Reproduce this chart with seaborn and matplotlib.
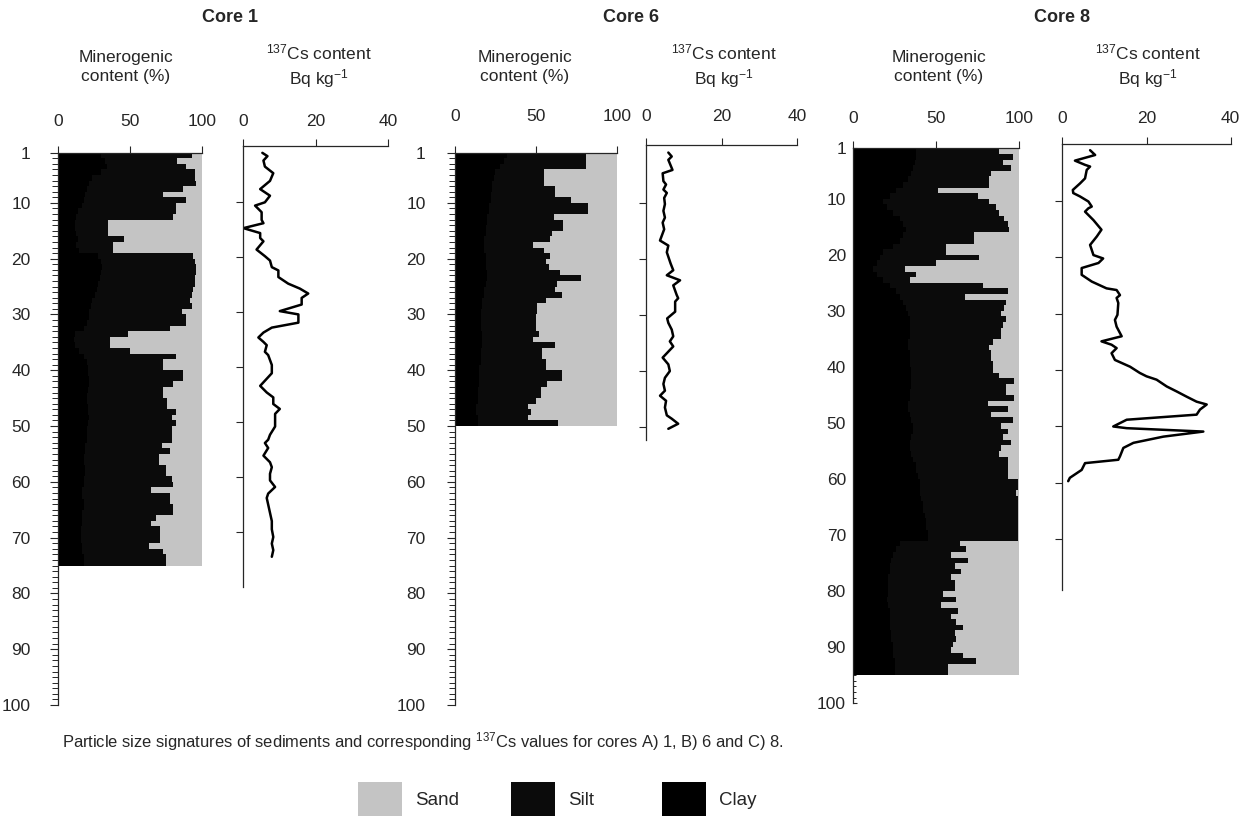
"""
Particle size signatures (clay / silt / sand) and 137Cs profiles
for cores 1, 6 and 8.
"""

import numpy as np
import matplotlib.pyplot as plt
from matplotlib.patches import Patch
from matplotlib.ticker import FixedLocator, MultipleLocator
import seaborn as sns

# %% Data

# 1 cm layers, value for layer [d, d+1)
core1_layers = np.arange(1, 75) + 0.5
core1_mud = [93, 83, 89, 95, 95, 96, 87, 73, 89, 82,
             82, 80, 35, 35, 35, 46, 38, 38, 94, 95,
             96, 96, 95, 95, 94, 93, 92, 93, 86, 89,
             89, 78, 49, 36, 36, 50, 82, 73, 73, 87,
             87, 80, 73, 73, 76, 76, 82, 79, 82, 79,
             79, 79, 72, 78, 70, 70, 75, 75, 79, 80,
             65, 78, 78, 80, 80, 68, 65, 71, 71, 71,
             63, 73, 75, 75]
core1_clay = [30, 33, 34, 30, 24, 22, 20, 19, 18, 17,
              14, 13, 12, 12, 13, 14, 13, 15, 28, 30,
              31, 30, 29, 28, 27, 26, 24, 23, 22, 22,
              20, 18, 12, 11, 12, 15, 18, 20, 21, 21,
              22, 22, 21, 20, 20, 21, 21, 22, 21, 20,
              20, 20, 19, 19, 18, 18, 19, 19, 18, 18,
              17, 17, 18, 18, 17, 17, 17, 16, 16, 16,
              17, 17, 18, 18]

core6_layers = np.arange(1, 50) + 0.5
core6_mud = [81, 81, 81, 55, 55, 55, 62, 62, 72, 82,
             82, 61, 67, 67, 60, 59, 48, 55, 59, 56,
             58, 65, 78, 63, 62, 66, 56, 51, 51, 50,
             50, 50, 52, 48, 62, 54, 54, 56, 56, 66,
             66, 57, 53, 53, 50, 45, 47, 45, 64]
core6_clay = [32, 30, 28, 25, 24, 23, 23, 22, 22, 21,
              21, 20, 20, 19, 19, 18, 18, 18, 19, 19,
              19, 20, 20, 19, 18, 18, 17, 17, 16, 16,
              16, 16, 17, 17, 17, 16, 16, 16, 15, 15,
              15, 15, 14, 14, 14, 13, 13, 14, 14]

core8_layers = np.arange(1, 95) + 0.5
core8_mud = [88, 96, 90, 95, 83, 82, 82, 51, 75, 82,
             86, 88, 91, 93, 94, 73, 73, 56, 56, 76,
             50, 31, 38, 34, 78, 93, 67, 92, 91, 89,
             92, 90, 89, 89, 84, 82, 83, 83, 84, 84,
             88, 97, 92, 92, 97, 81, 93, 83, 96, 89,
             93, 90, 95, 89, 88, 93, 93, 93, 93, 99,
             99, 98, 99, 99, 99, 99, 99, 99, 99, 99,
             64, 68, 59, 69, 61, 65, 59, 61, 61, 54,
             62, 53, 63, 59, 62, 66, 61, 62, 60, 59,
             66, 74, 57, 57]
core8_clay = [38, 38, 37, 36, 35, 33, 30, 26, 22, 18,
              20, 24, 28, 30, 32, 30, 28, 24, 18, 16,
              14, 12, 14, 18, 22, 26, 28, 30, 32, 33,
              34, 34, 34, 34, 33, 33, 34, 34, 34, 35,
              35, 35, 35, 34, 34, 33, 33, 34, 35, 36,
              36, 35, 34, 34, 35, 36, 38, 38, 39, 40,
              40, 40, 41, 42, 42, 43, 44, 44, 45, 45,
              28, 26, 24, 23, 22, 22, 21, 21, 21, 21,
              20, 21, 22, 22, 22, 22, 23, 23, 24, 24,
              24, 25, 25, 25]

core1_cs_depth = [1.0, 1.6, 2.4, 3.5, 4.7, 6.1, 7.6, 8.8, 10.0, 10.6,
                  11.8, 13.2, 13.8, 14.7, 15.6, 16.5, 17.1, 18.6, 19.8, 20.6,
                  21.8, 22.4, 23.6, 24.8, 25.7, 26.6, 27.4, 28.6, 29.8, 30.4,
                  31.9, 32.8, 33.7, 34.6, 35.4, 36.0, 37.2, 37.8, 39.6, 41.1,
                  43.4, 44.6, 45.5, 46.7, 47.6, 48.5, 50.8, 52.3, 53.2, 53.8,
                  54.7, 56.1, 57.3, 58.2, 59.4, 60.6, 61.8, 63.0, 63.8, 65.0,
                  66.5, 68.0, 69.5, 70.9, 72.1, 73.3, 74.5]
core1_cs = [5.4, 6.8, 5.7, 6.1, 8.4, 7.5, 4.8, 7.5, 6.1, 3.4,
            5.2, 5.2, 5.7, 0.2, 4.8, 4.8, 5.7, 3.8, 6.1, 7.5,
            8.0, 9.8, 9.8, 12.5, 15.7, 18.0, 16.2, 16.2, 10.2, 15.3,
            15.3, 8.0, 5.7, 4.3, 5.7, 6.6, 6.1, 7.0, 8.0, 8.0,
            4.8, 6.6, 8.4, 8.4, 10.2, 8.9, 8.9, 7.5, 7.0, 6.1,
            7.0, 5.7, 7.5, 8.0, 7.5, 7.5, 8.9, 7.0, 6.6, 7.0,
            7.5, 8.0, 8.0, 8.4, 8.0, 8.4, 8.0]

core6_cs_depth = [1.0, 1.7, 2.3, 4.1, 4.7, 6.1, 6.7, 7.6, 8.2, 9.1,
                  10.2, 11.4, 12.6, 13.5, 14.7, 16.7, 17.6, 18.8, 20.8, 22.0,
                  22.9, 23.8, 24.7, 26.4, 27.0, 27.6, 29.4, 30.6, 31.4, 32.6,
                  33.8, 34.7, 35.6, 37.6, 38.8, 40.0, 41.2, 42.3, 43.5, 44.4,
                  45.3, 46.5, 47.9, 48.5, 49.4, 50.3]
core6_cs = [5.9, 6.8, 5.9, 7.0, 4.4, 4.6, 5.3, 4.6, 5.5, 4.8,
            5.0, 4.6, 5.0, 4.4, 4.8, 3.7, 5.9, 5.5, 6.5, 7.2,
            5.5, 9.0, 7.2, 8.1, 8.5, 7.7, 7.7, 5.6, 5.9, 6.8,
            7.2, 6.3, 7.2, 4.4, 5.9, 6.3, 5.0, 4.6, 5.0, 3.7,
            5.3, 5.0, 5.5, 6.8, 8.5, 5.9]

core8_cs_depth = [1.0, 1.85, 2.85, 3.6, 3.9, 4.5, 6.0, 6.9, 8.05, 8.6,
                  9.2, 10.1, 11.0, 11.3, 11.9, 13.4, 15.1, 16.3, 17.8, 19.6,
                  20.2, 21.0, 21.9, 23.1, 24.3, 25.5, 25.8, 26.7, 27.2, 28.1,
                  30.2, 31.1, 32.3, 34.0, 34.9, 35.5, 36.1, 37.0, 38.2, 39.4,
                  40.5, 41.1, 41.7, 42.9, 43.8, 44.7, 45.6, 46.1, 47.0, 47.9,
                  48.8, 50.0, 50.3, 50.9, 51.8, 52.9, 53.8, 55.3, 55.9, 56.5,
                  57.7, 59.1, 59.7]
core8_cs = [6.6, 7.8, 3.0, 5.4, 6.6, 5.8, 5.4, 4.2, 2.5, 2.6,
            4.2, 6.2, 7.0, 6.2, 5.4, 7.4, 9.3, 8.2, 6.6, 7.4,
            9.7, 8.6, 4.6, 4.6, 7.0, 10.5, 12.9, 13.7, 12.9, 13.3,
            13.1, 12.5, 12.9, 14.1, 9.3, 11.7, 12.9, 11.7, 12.5, 16.1,
            18.4, 20.0, 22.4, 24.8, 27.2, 29.5, 31.9, 34.3, 32.7, 31.9,
            15.3, 12.1, 15.3, 33.5, 24.0, 16.9, 14.5, 13.7, 13.3, 5.4,
            4.6, 1.8, 1.4]

depth_labels = [1, 10, 20, 30, 40, 50, 60, 70, 80, 90, 100]

SAND, SILT, CLAY = "#c4c4c4", "#0b0b0b", "#000000"

# %% Style

sns.set_style("ticks")
plt.rcParams["font.family"] = ["Liberation Sans", "DejaVu Sans"]
plt.rcParams["mathtext.default"] = "regular"
plt.rcParams["axes.linewidth"] = 0.9

W, H = 1247, 816
fig = plt.figure(figsize=(W / 100, H / 100), dpi=100)


def box(x0, x1, y0, y1):
    """pixel box (from top-left) -> figure fraction rect"""
    return [x0 / W, 1 - y1 / H, (x1 - x0) / W, (y1 - y0) / H]


def draw_mineral(rect, layers, clay, mud, xpad, ypad, ydir="out"):
    ax = fig.add_axes(rect)
    total = [100] * len(layers)
    for vals, col in [(total, SAND), (mud, SILT), (clay, CLAY)]:
        sns.barplot(x=vals, y=layers, orient="h", native_scale=True, width=1,
                    color=col, saturation=1, errorbar=None,
                    linewidth=0, antialiased=False, ax=ax)
    ax.set_xlim(0, 100)
    ax.set_ylim(100, 1)
    ax.set_xlabel("")
    ax.set_ylabel("")
    ax.xaxis.set_major_locator(FixedLocator([0, 50, 100]))
    ax.yaxis.set_major_locator(FixedLocator(depth_labels))
    ax.yaxis.set_minor_locator(MultipleLocator(1))
    ax.set_yticklabels([str(v) for v in depth_labels])
    ax.tick_params(axis="x", top=True, labeltop=True, bottom=False,
                   labelbottom=False, length=5, width=0.8, pad=xpad,
                   labelsize=12.5)
    ax.tick_params(axis="y", which="major", length=6 if ydir == "out" else 3,
                   width=0.8, pad=ypad, labelsize=12.5, direction=ydir)
    ax.tick_params(axis="y", which="minor", length=4 if ydir == "out" else 2,
                   width=0.7, direction=ydir)
    for s in ["right", "bottom"]:
        ax.spines[s].set_visible(False)
    return ax


def draw_cs(rect, depth, cs, ylim, yticks, xpad):
    ax = fig.add_axes(rect)
    sns.lineplot(x=cs, y=depth, sort=False, estimator=None, color="black",
                 linewidth=1.8, ax=ax)
    ax.set_xlim(0, 40)
    ax.set_ylim(*ylim)
    ax.set_xlabel("")
    ax.set_ylabel("")
    ax.set_xticks([0, 20, 40])
    ax.set_yticks(yticks)
    ax.set_yticklabels([])
    ax.tick_params(axis="x", top=True, labeltop=True, bottom=False,
                   labelbottom=False, length=5, width=0.8, pad=xpad,
                   labelsize=12.5)
    ax.tick_params(axis="y", length=5, width=0.8)
    for s in ["right", "bottom"]:
        ax.spines[s].set_visible(False)
    return ax


# %% Core 1
draw_mineral(box(57.7, 202.0, 152.7, 705), core1_layers, core1_clay, core1_mud,
             xpad=12.3, ypad=13.5)
draw_cs(box(242.7, 388.3, 145.7, 587), core1_cs_depth, core1_cs,
        (80, -0.3), [10, 20, 30, 40, 50, 60, 70], xpad=7.3)

# %% Core 6
draw_mineral(box(455, 616.7, 152.7, 705), core6_layers, core6_clay, core6_mud,
             xpad=15.9, ypad=15.1)
draw_cs(box(646, 797.4, 145, 440), core6_cs_depth, core6_cs,
        (52.3, -0.35), [10, 20, 30, 40, 50], xpad=10.4)

# %% Core 8
draw_mineral(box(853.3, 1019.3, 148.3, 703.3), core8_layers, core8_clay,
             core8_mud, xpad=11.3, ypad=5.3, ydir="in")
draw_cs(box(1062.3, 1230.7, 144, 590), core8_cs_depth, core8_cs,
        (79, -0.1), [10, 20, 30, 40, 50, 60, 70], xpad=8.2)

# %% Headers, caption, legend
for x, name in [(230, "Core 1"), (631, "Core 6"), (1062, "Core 8")]:
    fig.text(x / W, 1 - 18 / H, name, ha="center", va="center",
             fontsize=13, fontweight="bold")

for x in [126, 525, 939]:
    fig.text(x / W, 1 - 67 / H, "Minerogenic\ncontent (%)", ha="center",
             va="center", multialignment="center", fontsize=12.5,
             linespacing=1.3)
for x in [319, 724, 1148]:
    fig.text(x / W, 1 - 66 / H, "$^{137}$Cs content\nBq kg$^{-1}$",
             ha="center", va="center", multialignment="center",
             fontsize=12.5, linespacing=1.3)

fig.text(62 / W, 1 - 742 / H,
         "Particle size signatures of sediments and corresponding "
         "$^{137}$Cs values for cores A) 1, B) 6 and C) 8.",
         ha="left", va="center", fontsize=11.9)

# one legend entry per box so the three keys sit at fixed, even spacing
for label, col, x in [("Sand", SAND, 358), ("Silt", SILT, 511),
                      ("Clay", CLAY, 662)]:
    fig.legend(handles=[Patch(facecolor=col, edgecolor="none", label=label)],
               loc="lower left", bbox_to_anchor=(x / W, 0), frameon=False,
               fontsize=13.5, handlelength=2.35, handleheight=2.42,
               handletextpad=0.7, borderaxespad=0, borderpad=0)

fig.savefig("out.png", dpi=100, facecolor="white")
